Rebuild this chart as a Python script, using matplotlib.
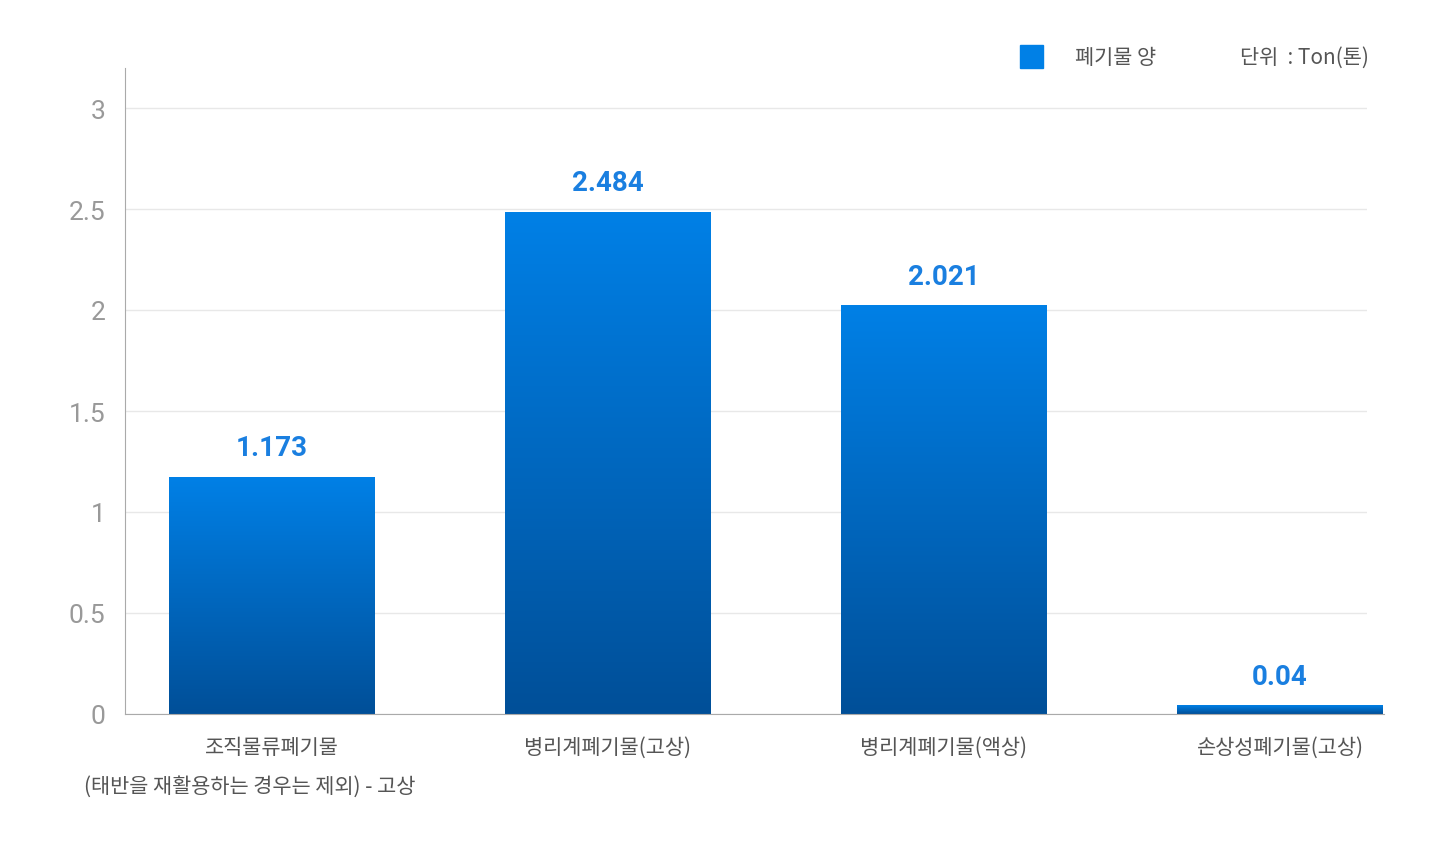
import matplotlib
matplotlib.use("Agg")
import matplotlib.pyplot as plt
import numpy as np
from matplotlib.patches import Rectangle

categories = ["조직물류폐기물\n(태반을 재활용하는 경우는 제외) - 고상", "병리계폐기물(고상)", "병리계폐기물(액상)", "손상성폐기물(고상)"]
values = [1.173, 2.484, 2.021, 0.04]
labels = ["1.173", "2.484", "2.021", "0.04"]
yticks = [0, 0.5, 1, 1.5, 2, 2.5, 3]
ytick_labels = ["0", "0.5", "1", "1.5", "2", "2.5", "3"]

plt.rcParams["font.family"] = "Noto Sans CJK KR"
fig = plt.figure(figsize=(14.33, 8.45), dpi=100)
ax = fig.add_axes([125/1433, 130/845, (1367-125)/1433, 646.4/845])
ax.set_xlim(-0.4375, 3.259)
ax.set_ylim(0, 3.2)

grad = np.linspace(0, 1, 256).reshape(-1, 1)
from matplotlib.colors import LinearSegmentedColormap
cmap = LinearSegmentedColormap.from_list("g", ["#004f98", "#0080e6"])
w = 0.613
for i, v in enumerate(values):
    im = ax.imshow(grad, cmap=cmap, origin="lower", aspect="auto",
                   extent=(i - w/2, i + w/2, 0, v), zorder=2, clip_on=False)
    r = Rectangle((i - w/2, 0), w, v, transform=ax.transData)
    im.set_clip_path(r)
    ax.text(i, v + 0.08, labels[i], ha="center", va="bottom", color="#1a7fe0",
            fontsize=20, fontweight="bold", fontfamily="Roboto")

ax.set_yticks(yticks)
ax.set_yticklabels(ytick_labels, fontsize=19, color="#999999", fontfamily="Roboto")
ax.grid(axis="y", color="#e8e8e8", linewidth=1)
ax.set_axisbelow(True)
ax.set_xticks(range(4))
ax.set_xticklabels([])
for i, c in enumerate(categories):
    if i == 0:
        ax.text(i, -0.11, "조직물류폐기물", ha="center", va="top", fontsize=15, color="#555555")
        ax.text(-0.56, -0.3, "(태반을 재활용하는 경우는 제외) - 고상", ha="left", va="top", fontsize=15, color="#555555")
    else:
        ax.text(i, -0.11, c, ha="center", va="top", fontsize=15, color="#555555")
ax.tick_params(axis="both", length=0, pad=14)
for s in ["top", "right"]:
    ax.spines[s].set_visible(False)
ax.spines["left"].set_color("#aaaaaa")
ax.spines["bottom"].set_color("#aaaaaa")
ax.spines["bottom"].set_bounds(-0.4375, 3.31)

fig.patches.append(Rectangle((1020/1433, 1-69/845), 23/1433, 23/845, transform=fig.transFigure, color="#0080e6"))
fig.text(1075/1433, 1-58/845, "폐기물 양", fontsize=15, color="#555555", va="center")
fig.text(1240/1433, 1-58/845, "단위  : Ton(톤)", fontsize=15, color="#555555", va="center")

fig.savefig("out.png", dpi=100)
